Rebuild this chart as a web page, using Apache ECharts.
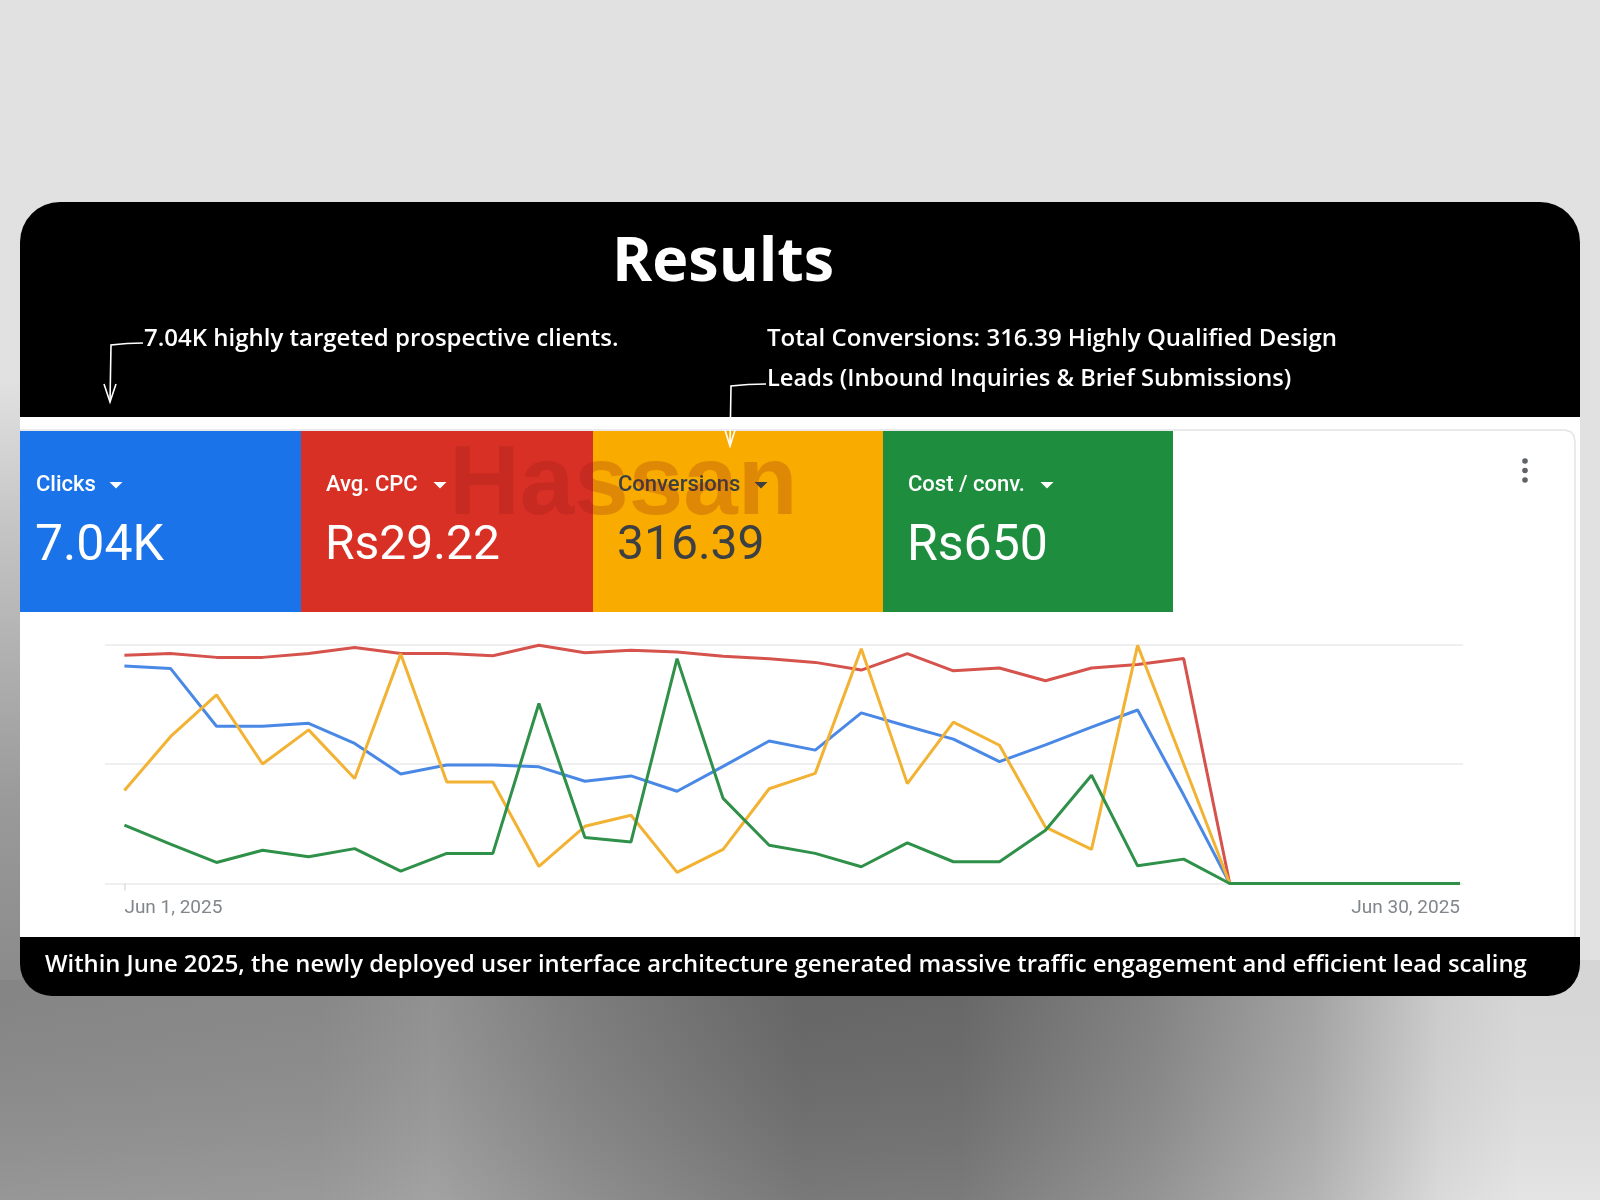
<!DOCTYPE html>
<html>
<head>
<meta charset="utf-8">
<style>
  html, body { margin: 0; padding: 0; background: #e1e1e1; }
  #chart { width: 1600px; height: 1200px; }
</style>
<script src="https://cdn.jsdelivr.net/npm/echarts@6/dist/echarts.min.js"></script>
</head>
<body>
<div id="chart"></div>
<script>
// ---------- data ----------
const categories = ['Jun 1, 2025','Jun 2, 2025','Jun 3, 2025','Jun 4, 2025','Jun 5, 2025','Jun 6, 2025','Jun 7, 2025','Jun 8, 2025','Jun 9, 2025','Jun 10, 2025',
  'Jun 11, 2025','Jun 12, 2025','Jun 13, 2025','Jun 14, 2025','Jun 15, 2025','Jun 16, 2025','Jun 17, 2025','Jun 18, 2025','Jun 19, 2025','Jun 20, 2025',
  'Jun 21, 2025','Jun 22, 2025','Jun 23, 2025','Jun 24, 2025','Jun 25, 2025','Jun 26, 2025','Jun 27, 2025','Jun 28, 2025','Jun 29, 2025','Jun 30, 2025'];
const clicks = [455,450,329,329,335,293,229,248,248,244,214,225,193,245,298,279,357,329,302,255,290,327,363,185,0,0,0,0,0,0];
const avgCpc = [29.61,29.82,29.33,29.33,29.82,30.60,29.82,29.82,29.54,30.91,29.92,30.26,30.04,29.48,29.14,28.68,27.68,29.82,27.59,27.96,26.29,27.96,28.40,29.17,0,0,0,0,0,0];
const conversions = [10.9,17.2,22.1,14.0,18.0,12.3,26.9,11.9,11.9,2.0,6.7,8.0,1.3,4.0,11.1,12.9,27.5,11.7,18.9,16.2,6.6,4.0,27.9,14.0,0,0,0,0,0,0];
const costPerConv = [1220,825,440,695,560,730,260,630,630,3765,960,870,4705,1780,800,630,350,850,455,455,1115,2265,370,510,0,0,0,0,0,0];
const axisMaxima = [500, 31, 28, 5000];
const kpiLabels = ['Clicks', 'Avg. CPC', 'Conversions', 'Cost / conv.'];
const kpiValues = ['7.04K', 'Rs29.22', '316.39', 'Rs650'];
const titleText = 'Results';
const note1 = '7.04K highly targeted prospective clients.';
const note2a = 'Total Conversions: 316.39 Highly Qualified Design';
const note2b = 'Leads (Inbound Inquiries & Brief Submissions)';
const footerText = 'Within June 2025, the newly deployed user interface architecture generated massive traffic engagement and efficient lead scaling';

// ---------- styling ----------
const tileColors = ['#1a73e8', '#d93025', '#f9ab00', '#1e8e3e'];
const tileText = ['#ffffff', '#ffffff', '#3c4043', '#ffffff'];
const tileX = [20, 301, 593, 883, 1173];
const valueFontSizes = [50, 48, 48, 50];
const lineColors = { clicks: '#4a88e6', cpc: '#d5534c', conv: '#f2b233', cpa: '#2f9149' };
const annFont = '600 24px "Open Sans"';

const chart = echarts.init(document.getElementById('chart'), null, { renderer: 'canvas' });

const g = [];
// page background
g.push({ type: 'rect', z: -30, shape: { x: 0, y: 0, width: 1600, height: 1200 }, style: { fill: '#e1e1e1' } });
// shadow under card
g.push({ type: 'rect', z: -29, shape: { x: 0, y: 960, width: 1600, height: 240 },
  style: { fill: new echarts.graphic.LinearGradient(0, 0, 1, 0, [
    { offset: 0, color: '#8b8b8b' }, { offset: 0.2, color: '#8e8e8e' }, { offset: 0.27, color: '#989898' },
    { offset: 0.36, color: '#838383' }, { offset: 0.5, color: '#6a6a6a' }, { offset: 0.6, color: '#6c6c6c' },
    { offset: 0.72, color: '#888888' }, { offset: 0.82, color: '#aaaaaa' }, { offset: 0.9, color: '#d6d6d6' },
    { offset: 0.95, color: '#e1e1e1' }, { offset: 1, color: '#e1e1e1' }]) } });
g.push({ type: 'rect', z: -28, shape: { x: 0, y: 960, width: 1600, height: 240 },
  style: { fill: new echarts.graphic.LinearGradient(0, 0, 0, 1, [
    { offset: 0, color: 'rgba(0,0,0,0.05)' }, { offset: 1, color: 'rgba(255,255,255,0.10)' }]) } });
// left side shadow strip
g.push({ type: 'rect', z: -27, shape: { x: 0, y: 380, width: 22, height: 600 },
  style: { fill: new echarts.graphic.LinearGradient(0, 0, 0, 1, [
    { offset: 0, color: '#e1e1e1' }, { offset: 0.25, color: '#c4c4c4' }, { offset: 0.7, color: '#9a9a9a' }, { offset: 1, color: '#8b8b8b' }]) } });
// black card
g.push({ type: 'rect', z: -20, shape: { x: 20, y: 202, width: 1560, height: 794, r: [40, 40, 32, 32] }, style: { fill: '#000000' } });
// white panel
g.push({ type: 'rect', z: -19, shape: { x: 20, y: 417, width: 1560, height: 520 }, style: { fill: '#ffffff' } });
g.push({ type: 'polyline', z: -18, shape: { points: [[20, 430], [1565, 430], [1571, 432], [1574, 436], [1575, 442], [1575, 937]] },
  style: { fill: null, stroke: '#e3e4e6', lineWidth: 1.5 } });
// KPI tiles
for (let i = 0; i < 4; i++) {
  const x0 = tileX[i];
  const w = tileX[i + 1] - x0;
  const tx = i === 0 ? x0 + 16 : x0 + 25;
  g.push({ type: 'rect', z: -15, shape: { x: x0, y: 431, width: w, height: 181 }, style: { fill: tileColors[i] } });
  g.push({ type: 'text', z: -14, x: tx, y: 485, style: { text: kpiLabels[i], fill: tileText[i], font: '500 22px Roboto', align: 'left', verticalAlign: 'middle' } });
  g.push({ type: 'text', z: -14, x: tx - 1, y: 547, style: { text: kpiValues[i], fill: tileText[i], font: '400 ' + valueFontSizes[i] + 'px Roboto', align: 'left', verticalAlign: 'middle' } });
}
const triX = [116, 440, 761, 1047];
for (let i = 0; i < 4; i++) {
  g.push({ type: 'polygon', z: -14, shape: { points: [[triX[i] - 6.5, 482], [triX[i] + 6.5, 482], [triX[i], 488.5]] }, style: { fill: tileText[i] } });
}
// menu dots
[461, 470.5, 480].forEach(y => g.push({ type: 'circle', z: -14, shape: { cx: 1525, cy: y, r: 2.8 }, style: { fill: '#5f6368' } }));
// watermark
g.push({ type: 'text', z: 5, x: 449, y: 487, style: { text: 'Hassan', fill: 'rgba(140,25,20,0.24)', font: '700 98px "Liberation Sans"', align: 'left', verticalAlign: 'middle' } });
// title & annotations
g.push({ type: 'text', z: -10, x: 612, y: 264, style: { text: titleText, fill: '#ffffff', font: '700 61px "Open Sans"', align: 'left', verticalAlign: 'middle' } });
g.push({ type: 'text', z: -10, x: 144, y: 339, style: { text: note1, fill: '#ffffff', font: annFont, align: 'left', verticalAlign: 'middle' } });
g.push({ type: 'text', z: -10, x: 767, y: 339, style: { text: note2a, fill: '#ffffff', font: annFont, align: 'left', verticalAlign: 'middle' } });
g.push({ type: 'text', z: -10, x: 767, y: 379, style: { text: note2b, fill: '#ffffff', font: '600 23.7px "Open Sans"', align: 'left', verticalAlign: 'middle' } });
g.push({ type: 'text', z: -10, x: 45, y: 965, style: { text: footerText, fill: '#ffffff', font: '600 23.8px "Open Sans"', align: 'left', verticalAlign: 'middle' } });
// hand-drawn arrows
const arrowStyle = { stroke: '#ffffff', lineWidth: 1.6, fill: null };
g.push({ type: 'polyline', z: -9, shape: { points: [[143, 343], [127, 343.5], [111, 345], [110, 402]] }, style: arrowStyle });
g.push({ type: 'polyline', z: -9, shape: { points: [[104, 384], [110, 402], [116, 384]] }, style: arrowStyle });
g.push({ type: 'polyline', z: 6, shape: { points: [[766, 384], [748, 384.5], [731, 386], [730, 446]] }, style: arrowStyle });
g.push({ type: 'polyline', z: 6, shape: { points: [[725, 430], [730, 446], [735, 430]] }, style: arrowStyle });

const option = {
  animation: false,
  graphic: { elements: g },
  grid: [
    { left: 124.4, right: 140, top: 644.5, bottom: 316.5 },
    { left: 105, right: 137, top: 644.5, bottom: 316.5 }
  ],
  xAxis: [
    { type: 'category', gridIndex: 0, data: categories, boundaryGap: false,
      axisLine: { show: false },
      axisTick: { show: true, interval: (i) => i === 0, length: 7, lineStyle: { color: '#dadce0', width: 1.5 } },
      axisLabel: { interval: (i) => i === 0 || i === categories.length - 1, color: '#80868b', fontSize: 19, fontFamily: 'Roboto',
        margin: 15, alignMinLabel: 'left', alignMaxLabel: 'right' },
      splitLine: { show: false } },
    { type: 'value', gridIndex: 1, min: 0, max: 1, show: false }
  ],
  yAxis: [
    { type: 'value', gridIndex: 0, min: 0, max: axisMaxima[0], show: false },
    { type: 'value', gridIndex: 0, min: 0, max: axisMaxima[1], show: false },
    { type: 'value', gridIndex: 0, min: 0, max: axisMaxima[2], show: false },
    { type: 'value', gridIndex: 0, min: 0, max: axisMaxima[3], show: false },
    { type: 'value', gridIndex: 1, min: 0, max: 2, interval: 1,
      axisLine: { show: false }, axisTick: { show: false }, axisLabel: { show: false },
      splitLine: { show: true, lineStyle: { color: '#eaeaea', width: 1.5 } } }
  ],
  series: [
    { name: 'Avg. CPC', type: 'line', xAxisIndex: 0, yAxisIndex: 1, data: avgCpc, symbol: 'none', z: 2,
      lineStyle: { width: 3, color: lineColors.cpc }, itemStyle: { color: lineColors.cpc } },
    { name: 'Clicks', type: 'line', xAxisIndex: 0, yAxisIndex: 0, data: clicks, symbol: 'none', z: 3,
      lineStyle: { width: 3, color: lineColors.clicks }, itemStyle: { color: lineColors.clicks } },
    { name: 'Conversions', type: 'line', xAxisIndex: 0, yAxisIndex: 2, data: conversions, symbol: 'none', z: 4,
      lineStyle: { width: 3, color: lineColors.conv }, itemStyle: { color: lineColors.conv } },
    { name: 'Cost / conv.', type: 'line', xAxisIndex: 0, yAxisIndex: 3, data: costPerConv, symbol: 'none', z: 5,
      lineStyle: { width: 3, color: lineColors.cpa }, itemStyle: { color: lineColors.cpa } }
  ]
};
chart.setOption(option);
</script>
</body>
</html>
